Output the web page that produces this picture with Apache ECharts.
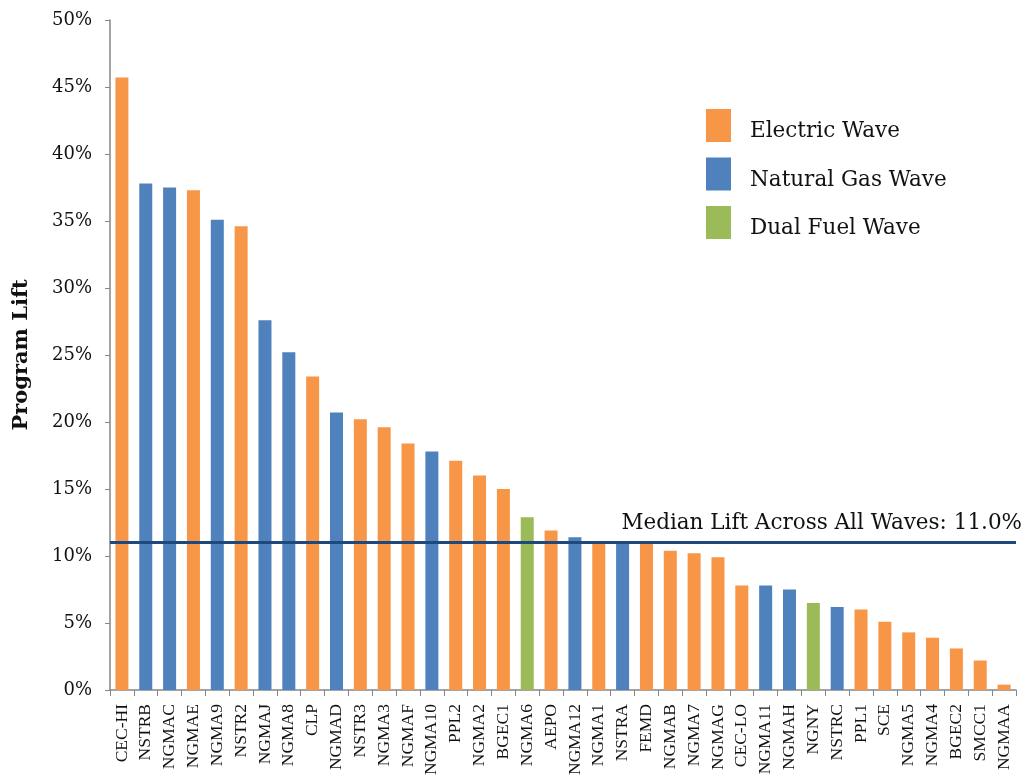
<!DOCTYPE html>
<html>
<head>
<meta charset="utf-8">
<script src="https://cdn.jsdelivr.net/npm/echarts@6/dist/echarts.min.js"></script>
<style>
  html, body { margin: 0; padding: 0; background: #fff; }
  #chart { width: 1026px; height: 781px; }
</style>
</head>
<body>
<div id="chart"></div>
<script>
// Program lift by wave, sorted from highest to lowest
const categories = ['CEC-HI','NSTRB','NGMAC','NGMAE','NGMA9','NSTR2','NGMAJ','NGMA8','CLP','NGMAD',
  'NSTR3','NGMA3','NGMAF','NGMA10','PPL2','NGMA2','BGEC1','NGMA6','AEPO','NGMA12',
  'NGMA1','NSTRA','FEMD','NGMAB','NGMA7','NGMAG','CEC-LO','NGMA11','NGMAH','NGNY',
  'NSTRC','PPL1','SCE','NGMA5','NGMA4','BGEC2','SMCC1','NGMAA'];
// Lift in percent
const lift = [45.7, 37.8, 37.5, 37.3, 35.1, 34.6, 27.6, 25.2, 23.4, 20.7,
  20.2, 19.6, 18.4, 17.8, 17.1, 16.0, 15.0, 12.9, 11.9, 11.4,
  11.0, 11.0, 10.9, 10.4, 10.2, 9.9, 7.8, 7.8, 7.5, 6.5,
  6.2, 6.0, 5.1, 4.3, 3.9, 3.1, 2.2, 0.4];
// Wave type per program: E = electric, G = natural gas, D = dual fuel
const waveType = ['E','G','G','E','G','E','G','G','E','G',
  'E','E','E','G','E','E','E','D','E','G',
  'E','G','E','E','E','E','E','G','G','D',
  'G','E','E','E','E','E','E','E'];
const waveNames = { E: 'Electric Wave', G: 'Natural Gas Wave', D: 'Dual Fuel Wave' };
const waveColors = { E: '#F79646', G: '#4F81BD', D: '#9BBB59' };
const medianLift = 11.0;
const yTicks = [0, 5, 10, 15, 20, 25, 30, 35, 40, 45, 50];

const SERIF_WIDE = '"DejaVu Serif", "Liberation Serif", serif';
const SERIF_NARROW = '"Liberation Serif", "DejaVu Serif", serif';

const series = ['E', 'G', 'D'].map(function (t) {
  const s = {
    name: waveNames[t],
    type: 'bar',
    stack: 'lift',
    barWidth: 13,
    itemStyle: { color: waveColors[t] },
    data: lift.map(function (v, i) { return waveType[i] === t ? v : null; })
  };
  if (t === 'E') {
    s.markLine = {
      symbol: 'none',
      silent: true,
      lineStyle: { color: '#1F497D', width: 3, type: 'solid' },
      label: {
        show: true,
        position: 'insideEndTop',
        formatter: 'Median Lift Across All Waves: ' + medianLift.toFixed(1) + '%',
        fontFamily: SERIF_WIDE,
        fontSize: 21.5,
        color: '#111',
        distance: [-6, 8]
      },
      data: [{ yAxis: medianLift }]
    };
  }
  return s;
});

const chart = echarts.init(document.getElementById('chart'), null, { renderer: 'canvas' });
chart.setOption({
  animation: false,
  backgroundColor: '#fff',
  grid: { left: 110, right: 10, top: 20, bottom: 91, containLabel: false, outerBoundsMode: 'none' },
  legend: {
    orient: 'vertical',
    left: 701,
    top: 104,
    itemWidth: 25,
    itemHeight: 33,
    itemGap: 15,
    icon: 'rect',
    formatter: function (name) { return '{t|' + name + '}'; },
    textStyle: {
      fontFamily: SERIF_WIDE,
      fontSize: 21.5,
      color: '#111',
      padding: [0, 0, 0, 14],
      rich: {
        t: { fontFamily: SERIF_WIDE, fontSize: 21.5, color: '#111', padding: [12, 0, 0, 0] }
      }
    },
    data: ['Electric Wave', 'Natural Gas Wave', 'Dual Fuel Wave']
  },
  xAxis: {
    type: 'category',
    data: categories,
    axisLine: { lineStyle: { color: '#868686', width: 1.5 } },
    axisTick: { show: true, length: 6, lineStyle: { color: '#868686' } },
    axisLabel: {
      rotate: 90,
      interval: 0,
      margin: 14,
      fontFamily: SERIF_NARROW,
      fontSize: 17.5,
      color: '#111'
    }
  },
  yAxis: {
    type: 'value',
    min: yTicks[0],
    max: yTicks[yTicks.length - 1],
    interval: yTicks[1] - yTicks[0],
    name: 'Program Lift',
    nameLocation: 'middle',
    nameRotate: 90,
    nameGap: 78,
    nameTextStyle: { fontFamily: SERIF_WIDE, fontSize: 21, fontWeight: 'bold', color: '#111' },
    axisLine: { show: true, lineStyle: { color: '#868686', width: 1.5 } },
    axisTick: { show: true, length: 5, lineStyle: { color: '#868686' } },
    splitLine: { show: false },
    axisLabel: {
      margin: 18,
      fontFamily: SERIF_WIDE,
      fontSize: 18,
      color: '#111',
      formatter: '{value}%'
    }
  },
  series: series
});
</script>
</body>
</html>
